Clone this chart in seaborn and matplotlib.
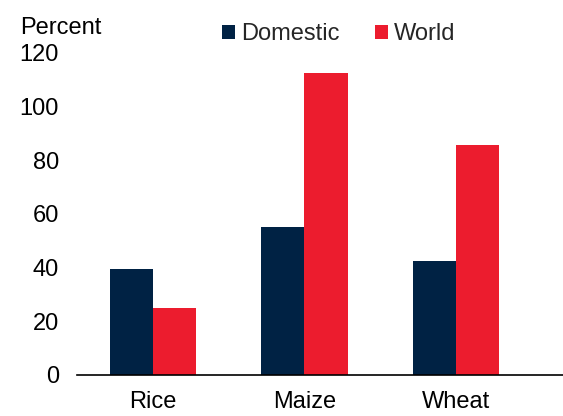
import matplotlib
matplotlib.use("Agg")
import matplotlib.pyplot as plt
import seaborn as sns
import pandas as pd

# Price changes by crop and market
crops = ["Rice", "Maize", "Wheat"]
domestic = [39.4, 55.0, 42.3]
world = [25.0, 112.6, 85.8]
series = ["Domestic", "World"]
yticks = [0, 20, 40, 60, 80, 100, 120]

df = pd.DataFrame({
    "crop": crops * 2,
    "series": [series[0]] * len(crops) + [series[1]] * len(crops),
    "value": domestic + world,
})

sns.set_theme(style="white")
plt.rcParams["font.family"] = ["Liberation Sans", "DejaVu Sans"]

fig = plt.figure(figsize=(5.63, 4.16), dpi=100)
ax = fig.add_axes([0.1368, 0.0993, 0.8632, 0.7733])

palette = {"Domestic": "#002244", "World": "#EC1C2E"}
sns.barplot(data=df, x="crop", y="value", hue="series", order=crops,
            hue_order=series, palette=palette, width=0.57, saturation=1,
            linewidth=0, ax=ax)

ax.set_xlim(-0.5, 2.705)
ax.set_ylim(0, 120)
ax.set_yticks(yticks)
ax.set_xlabel("")
ax.set_ylabel("")
for s in ["top", "right", "left"]:
    ax.spines[s].set_visible(False)
ax.spines["bottom"].set_color("black")
ax.spines["bottom"].set_linewidth(1.2)
ax.tick_params(axis="both", length=0, labelsize=17, colors="black")
ax.tick_params(axis="y", pad=13)
ax.tick_params(axis="x", pad=12)

fig.text(20 / 563, 1 - 28 / 416, "Percent", fontsize=17, ha="left",
         va="center", color="black")

handles, labels = ax.get_legend_handles_labels()
ax.legend(handles, labels, ncol=2, frameon=False, fontsize=17,
          loc="upper left", bbox_to_anchor=(222 / 563, 1 - 23 / 416),
          bbox_transform=fig.transFigure, borderpad=0, borderaxespad=0,
          handlelength=0.55, handleheight=0.55, handletextpad=0.26,
          columnspacing=1.5)

fig.savefig("out.png", dpi=100)
